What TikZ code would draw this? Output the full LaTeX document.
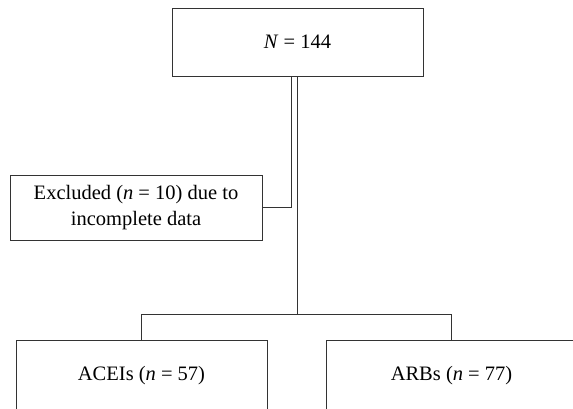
\documentclass[tikz,border=0pt]{standalone}
\usepackage{fontspec}
\setmainfont{Liberation Serif}
\begin{document}
\begin{tikzpicture}[x=1pt,y=1pt,
  box/.style={draw=black!80, line width=0.9pt, minimum width=251pt, inner sep=0pt, align=center, font=\fontsize{20.5}{26}\selectfont},
  conn/.style={draw=black!80, line width=0.9pt}]
\useasboundingbox (0,0) rectangle (573,-408);
\node[box, minimum height=68pt] (top) at (297.5,-42) {\textit{N} = 144};
\node[box, minimum width=252pt, minimum height=65pt] (excl) at (136,-207.5) {Excluded (\textit{n} = 10) due to\\incomplete data};
\node[box, minimum height=72pt] (acei) at (141.5,-376) {ACEIs (\textit{n} = 57)};
\node[box, minimum height=72pt] (arb) at (451.5,-376) {ARBs (\textit{n} = 77)};
\draw[conn] ([xshift=-6pt]top.south) |- (excl.east);
\draw[conn] (top.south) -- ++(0,-238) coordinate (split);
\draw[conn] (acei.north) |- (split) -| (arb.north);
\end{tikzpicture}
\end{document}
